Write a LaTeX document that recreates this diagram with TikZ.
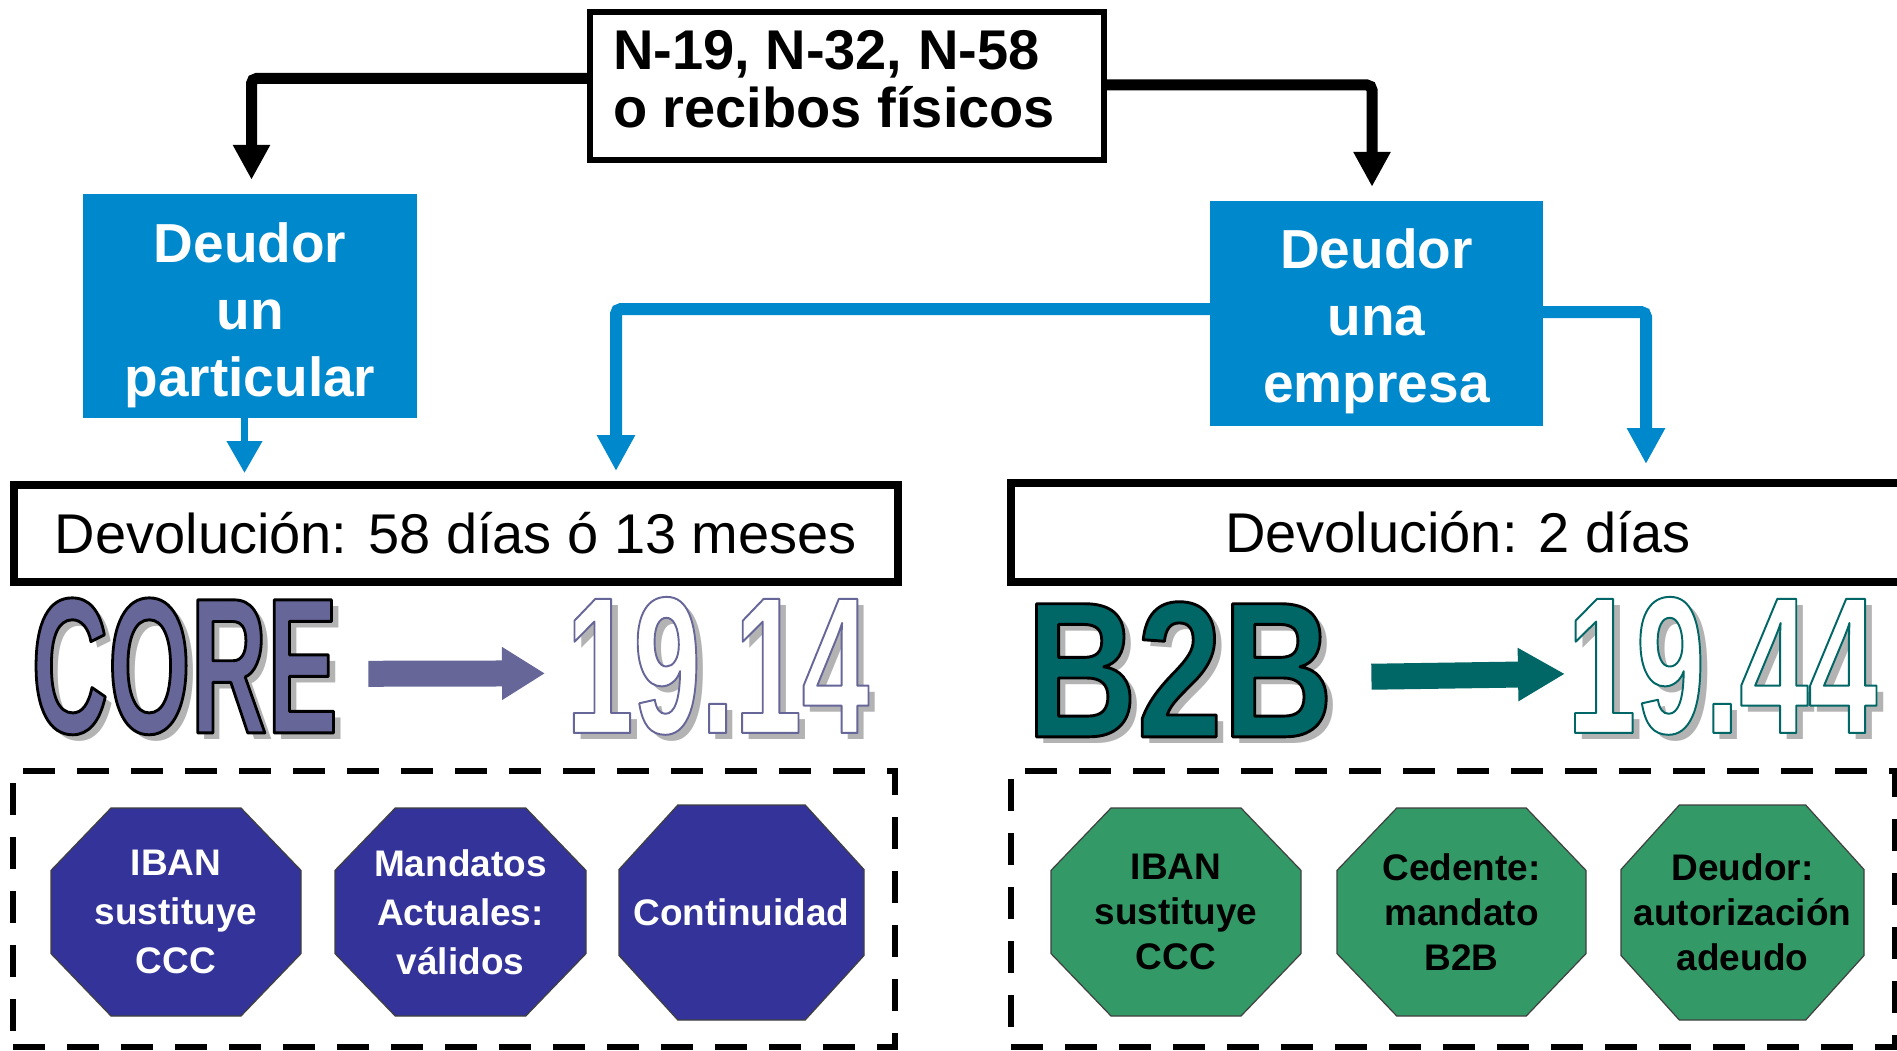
\documentclass[tikz,border=0pt]{standalone}
\usepackage{fontspec}
\setmainfont{Liberation Sans}
\newfontfamily\waCfont{Liberation Sans}[FakeStretch=0.573]
\newfontfamily\waNfont{Liberation Sans}[FakeStretch=0.64]
\newfontfamily\waBfont{Liberation Sans}[FakeStretch=0.82]
\usepackage{graphicx}
\usetikzlibrary{arrows.meta,calc}
\definecolor{blueC}{HTML}{0088CC}
\definecolor{coreC}{HTML}{666699}
\definecolor{tealC}{HTML}{006666}
\definecolor{navyC}{HTML}{333399}
\definecolor{greenC}{HTML}{339966}
\definecolor{shadowC}{HTML}{B3B3B3}
\definecolor{octline}{HTML}{404040}
\tikzset{
  blk/.style={draw=black, line width=11pt, -{Triangle[length=35pt,width=35pt]}, rounded corners=5pt},
  blu/.style={draw=blueC, line width=12pt, -{Triangle[length=36pt,width=36pt]}, rounded corners=5pt},
  blus/.style={draw=blueC, line width=7pt, -{Triangle[length=32pt,width=34pt]}},
  bluebox/.style={fill=blueC, inner sep=0pt},
  bluetext/.style={text=white, font=\fontsize{55}{67}\selectfont\bfseries, align=center, inner sep=0pt, anchor=north},
  devbox/.style={draw=black, line width=8pt, inner sep=0pt, font=\fontsize{56}{60}\selectfont},
  grpbox/.style={draw=black, line width=6pt, dash pattern=on 32pt off 22pt, inner sep=0pt},
  wa/.style={anchor=south west, inner sep=0pt, font=\fontsize{100}{100}\selectfont},
  octL/.style={text=white, font=\fontsize{37}{49}\selectfont\bfseries, align=center, inner sep=0pt},
  octR/.style={text=black, font=\fontsize{37}{45}\selectfont\bfseries, align=center, inner sep=0pt},
}
% wordart: name, x-left, y-bottom, width, height, fill, stroke rgb, stroke width, text
\newcommand\wart[9]{%
  \node[wa, text=shadowC] (#1s) at ({#2+7},{#3+7}) {\resizebox{#4pt}{#5pt}{#9}};
  \node[wa, text=#6] (#1) at (#2,#3) {\resizebox{#4pt}{#5pt}{\special{pdf:literal direct 2 Tr #8 w 1 j #7 RG}#9\special{pdf:literal direct 0 Tr 0 j}}};
}
% octagon: name, x1, y1, x2, y2, fill, text style, text
\newcommand\octo[8]{%
  \path[draw=octline, line width=1.2pt, fill=#6]
    ({#2+0.24*(#4-#2)},#3) -- ({#4-0.24*(#4-#2)},#3) -- (#4,{#3+0.3*(#5-#3)})
    -- (#4,{#5-0.3*(#5-#3)}) -- ({#4-0.24*(#4-#2)},#5) -- ({#2+0.24*(#4-#2)},#5)
    -- (#2,{#5-0.3*(#5-#3)}) -- (#2,{#3+0.3*(#5-#3)}) -- cycle;
  \node[#7] (#1) at ({(#2+#4)/2},{(#3+#5)/2}) {#8};
}
\begin{document}
\begin{tikzpicture}[x=1pt,y=-1pt]
\useasboundingbox[fill=white] (0,0) rectangle (1897,1051);

% top box
\node[draw=black, line width=6pt, minimum width=514pt, minimum height=148pt, inner sep=0pt] (top) at (847,86) {};
\node[anchor=north west, inner sep=0pt, align=left, font=\fontsize{56}{58}\selectfont\bfseries] (toptext) at (613,30)
  {N-19, N-32, N-58\\o recibos físicos};

% blue boxes
\node[bluebox, minimum width=334pt, minimum height=224pt] (part) at (250,306) {};
\node[bluetext] (parttext) at (250,222) {Deudor\\un\\particular};
\node[bluebox, minimum width=333pt, minimum height=225pt] (emp) at (1376.5,313.5) {};
\node[bluetext] (emptext) at (1376.5,228) {Deudor\\una\\empresa};

% devolucion boxes
\node[devbox, minimum width=884pt, minimum height=97pt] (dev1) at (456,533.5) {Devolución: 58 días ó 13 meses};
\node[devbox, minimum width=894pt, minimum height=99pt] (dev2) at (1458,532.5) {Devolución: 2 días};

% black connectors
\draw[blk, shorten >=14pt] ([yshift=7.5pt]top.west) -| ([xshift=1.5pt]part.north);
\draw[blk, shorten >=14pt] ([yshift=1pt]top.east) -| ([xshift=-4.5pt]emp.north);

% blue connectors
\draw[blus, shorten >=8pt] ([xshift=-5.5pt]part.south) -- ([xshift=-5.5pt]part.south |- dev1.north);
\draw[blu, shorten >=10pt] ([yshift=4.5pt]emp.west) -| ([xshift=606pt]dev1.north west);
\draw[blu, shorten >=15pt] ([yshift=1.5pt]emp.east) -| ([xshift=639pt]dev2.north west);

% word art
\wart{core}{31.5}{735}{306}{135}{coreC}{0 0 0}{1.5}{\waCfont\bfseries CORE}
\wart{nA}{566}{735}{303}{136}{white}{0.4 0.4 0.6}{1.0}{\waNfont\bfseries 19.14}
\wart{btb}{1026}{737}{307}{135}{tealC}{0 0 0}{1.5}{\waBfont\bfseries B2B}
\wart{nB}{1567}{735}{310}{136}{white}{0 0.4 0.4}{1.0}{\waNfont\bfseries 19.44}

\draw[line width=26pt, coreC, -{Triangle[length=43pt,width=50pt]}, shorten <=30.5pt, shorten >=21pt]
  ([yshift=-7.5pt]core.east) -- ([yshift=-7.5pt]nA.west);
\draw[line width=26pt, tealC, -{Triangle[length=47pt,width=50pt]}, shorten <=38pt, shorten >=2pt]
  ([yshift=-8pt]btb.east) -- ([yshift=-8pt]nB.west);

% dashed groups
\node[grpbox, minimum width=882pt, minimum height=276pt] (grp1) at (454,909) {};
\node[grpbox, minimum width=884pt, minimum height=276pt] (grp2) at (1453,909) {};

% octagons
\octo{o1}{51}{808}{301}{1016}{navyC}{octL}{IBAN\\sustituye\\CCC}
\octo{o2}{335}{808}{586}{1016}{navyC}{octL}{Mandatos\\Actuales:\\válidos}
\octo{o3}{619}{805}{864}{1020}{navyC}{octL}{Continuidad}
\octo{o4}{1051}{808}{1301}{1016}{greenC}{octR}{IBAN\\sustituye\\CCC}
\octo{o5}{1337}{808}{1586}{1016}{greenC}{octR}{Cedente:\\mandato\\B2B}
\octo{o6}{1621}{805}{1864}{1020}{greenC}{octR}{Deudor:\\autorización\\adeudo}
\end{tikzpicture}
\end{document}
